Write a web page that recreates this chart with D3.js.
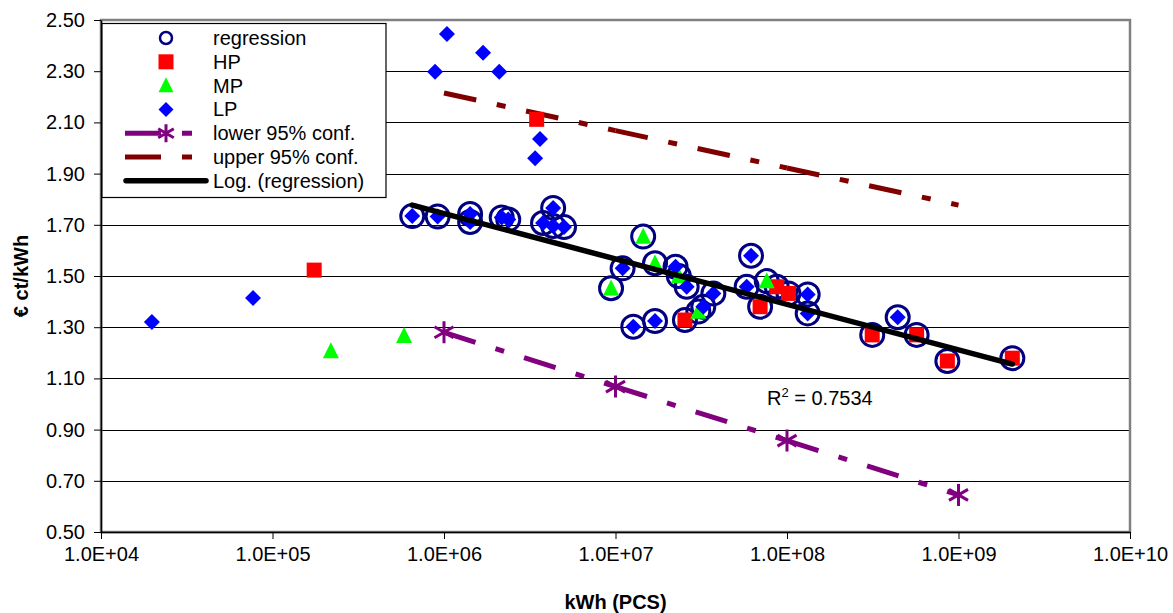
<!DOCTYPE html>
<html><head><meta charset="utf-8">
<script src="https://cdn.jsdelivr.net/npm/d3@7"></script>
<style>
html,body{margin:0;padding:0;background:#fff;}
text{font-family:"Liberation Sans",Arial,sans-serif;fill:#000;}
</style></head>
<body><svg id="c" width="1173" height="613"></svg>
<script>
// ---------- data ----------
const xTicks = [1e4,1e5,1e6,1e7,1e8,1e9,1e10];
const xTickLabels = ["1.0E+04","1.0E+05","1.0E+06","1.0E+07","1.0E+08","1.0E+09","1.0E+10"];
const yTicks = [0.5,0.7,0.9,1.1,1.3,1.5,1.7,1.9,2.1,2.3,2.5];
const yTickLabels = ["0.50","0.70","0.90","1.10","1.30","1.50","1.70","1.90","2.10","2.30","2.50"];

const hpSeries = [[1.75e5,1.523],[3.47e6,2.112],[2.54e7,1.328],[6.97e7,1.380],[8.71e7,1.458],
  [1.02e8,1.432],[3.14e8,1.270],[5.70e8,1.270],[8.61e8,1.168],[2.06e9,1.179]];
const mpSeries = [[2.19e5,1.207],[5.85e5,1.266],[9.42e6,1.452],[1.45e7,1.654],[1.70e7,1.550],
  [2.34e7,1.500],[3.04e7,1.361],[7.62e7,1.480]];
const lpSeries = [[1.98e4,1.320],[7.7e4,1.414],[8.87e5,2.298],[1.04e6,2.445],[1.69e6,2.372],
  [2.10e6,2.298],[3.63e6,2.035],[3.40e6,1.960],
  [6.53e5,1.734],[9.18e5,1.732],[1.42e6,1.742],[1.42e6,1.711],[2.17e6,1.729],[2.37e6,1.721],
  [4.33e6,1.766],[3.78e6,1.707],[4.33e6,1.695],[5.01e6,1.691],
  [1.10e7,1.530],[2.24e7,1.536],[2.60e7,1.458],[3.72e7,1.432],[3.25e7,1.380],[1.27e7,1.302],[1.70e7,1.324],
  [6.17e7,1.579],[5.82e7,1.458],[1.32e8,1.428],[1.32e8,1.354],[4.42e8,1.339]];
const regressionSeries = [
  [6.53e5,1.734],[9.18e5,1.732],[1.42e6,1.742],[1.42e6,1.711],[2.17e6,1.729],[2.37e6,1.721],
  [4.33e6,1.766],[3.78e6,1.707],[4.33e6,1.695],[5.01e6,1.691],
  [9.42e6,1.452],[1.10e7,1.530],[1.27e7,1.302],[1.45e7,1.654],[1.70e7,1.550],[1.70e7,1.324],
  [2.24e7,1.536],[2.34e7,1.500],[2.54e7,1.328],[2.60e7,1.458],[3.04e7,1.361],[3.25e7,1.380],[3.72e7,1.432],
  [5.82e7,1.458],[6.17e7,1.579],[6.97e7,1.380],[7.62e7,1.480],[8.71e7,1.458],[1.02e8,1.432],
  [1.32e8,1.428],[1.32e8,1.354],
  [3.14e8,1.270],[4.42e8,1.339],[5.70e8,1.270],[8.61e8,1.168],[2.06e9,1.179]];
const lowerConf = [[1e6,1.280],[1e7,1.068],[1e8,0.857],[1e9,0.645]];
const upperConf = [[1e6,2.215],[1e7,2.068],[1e8,1.922],[1e9,1.777]];
const trendX = [6.53e5, 2.06e9];
const trendY = [1.777, 1.156];
const r2Label = "0.7534";
const legendLabels = ["regression","HP","MP","LP","lower 95% conf.","upper 95% conf.","Log. (regression)"];

// ---------- layout ----------
const svg = d3.select("#c");
const L=101, R=1130, T=20, B=532;
const x = d3.scaleLog().domain([1e4,1e10]).range([L,R]);
const y = d3.scaleLinear().domain([0.5,2.5]).range([B,T]);
const FS = 20;

// gridlines
svg.append("g").selectAll("line").data(yTicks.slice(1,-1)).join("line")
  .attr("x1",L).attr("x2",R).attr("y1",d=>Math.round(y(d))+0.5).attr("y2",d=>Math.round(y(d))+0.5)
  .attr("stroke","#000").attr("stroke-width",1);

// plot border
svg.append("rect").attr("x",L).attr("y",T).attr("width",R-L).attr("height",B-T)
  .attr("fill","none").attr("stroke","#808080").attr("stroke-width",2.5);

// axes
const xAxis = svg.append("g").attr("transform",`translate(0,${B})`)
  .call(d3.axisBottom(x).tickValues(xTicks).tickFormat((d,i)=>xTickLabels[i]).tickSizeInner(7).tickSizeOuter(0).tickPadding(8));
const yAxis = svg.append("g").attr("transform",`translate(${L},0)`)
  .call(d3.axisLeft(y).tickValues(yTicks).tickFormat((d,i)=>yTickLabels[i]).tickSizeInner(7).tickSizeOuter(0).tickPadding(9));
[xAxis,yAxis].forEach(g=>{
  g.selectAll("path.domain").attr("stroke","#000").attr("stroke-width",1.5);
  g.selectAll("line").attr("stroke","#000").attr("stroke-width",1);
  g.selectAll("text").style("font-family","Liberation Sans, Arial, sans-serif").style("font-size",FS+"px").attr("fill","#000");
});

// conf lines (pattern restarts each segment)
const dash = "33,21,9,21";
function confLine(data,color){
  const g = svg.append("g");
  for(let i=0;i<data.length-1;i++){
    g.append("line").attr("x1",x(data[i][0])).attr("y1",y(data[i][1]))
      .attr("x2",x(data[i+1][0])).attr("y2",y(data[i+1][1]))
      .attr("stroke",color).attr("stroke-width",5).attr("stroke-dasharray",dash);
  }
}
confLine(upperConf,"#800000");
confLine(lowerConf,"#800080");

// markers
function square(g,cx,cy,s){g.append("rect").attr("x",cx-s/2).attr("y",cy-s/2).attr("width",s).attr("height",s).attr("fill","#FF0000");}
function tri(g,cx,cy,s){g.append("path").attr("d",`M${cx},${cy-s*0.55}L${cx+s/2},${cy+s*0.45}L${cx-s/2},${cy+s*0.45}Z`).attr("fill","#00FF00");}
function diamond(g,cx,cy,s){const h=s/2;g.append("path").attr("d",`M${cx},${cy-h}L${cx+h},${cy}L${cx},${cy+h}L${cx-h},${cy}Z`).attr("fill","#0000FF");}
function star(g,cx,cy,s){
  const h=s/2, a=h*0.866, b=h*0.5;
  g.append("path").attr("d",`M${cx},${cy-h}L${cx},${cy+h}M${cx-a},${cy-b}L${cx+a},${cy+b}M${cx-a},${cy+b}L${cx+a},${cy-b}`)
   .attr("stroke","#800080").attr("stroke-width",3).attr("fill","none");
}

const gReg = svg.append("g");
gReg.selectAll("circle").data(regressionSeries).join("circle")
  .attr("cx",d=>x(d[0])).attr("cy",d=>y(d[1])).attr("r",11.5)
  .attr("fill","none").attr("stroke","#000080").attr("stroke-width",3);
const gHP = svg.append("g"); hpSeries.forEach(d=>square(gHP,x(d[0]),y(d[1]),15));
const gMP = svg.append("g"); mpSeries.forEach(d=>tri(gMP,x(d[0]),y(d[1]),16));
const gLP = svg.append("g"); lpSeries.forEach(d=>diamond(gLP,x(d[0]),y(d[1]),16));
const gSt = svg.append("g"); lowerConf.forEach(d=>star(gSt,x(d[0]),y(d[1]),22));

// trendline
svg.append("line").attr("x1",x(trendX[0])).attr("y1",y(trendY[0])).attr("x2",x(trendX[1])).attr("y2",y(trendY[1]))
  .attr("stroke","#000").attr("stroke-width",5.5).attr("stroke-linecap","round");

// R^2 label
const rt = svg.append("text").attr("x",767).attr("y",405).style("font-size",FS+"px");
rt.append("tspan").text("R");
rt.append("tspan").attr("dy",-8).style("font-size","13px").text("2");
rt.append("tspan").attr("dy",8).text(" = "+r2Label);

// legend
const lg = svg.append("g");
lg.append("rect").attr("x",L+1).attr("y",23.5).attr("width",284).attr("height",174)
  .attr("fill","#fff").attr("stroke","#000").attr("stroke-width",1.2);
const rowY = i => 38 + i*23.8;
const sx = 166;
lg.append("circle").attr("cx",sx).attr("cy",rowY(0)).attr("r",6).attr("fill","#fff").attr("stroke","#000080").attr("stroke-width",2.5);
square(lg,sx,rowY(1),15);
tri(lg,sx,rowY(2),15);
diamond(lg,sx,rowY(3),15);
lg.append("line").attr("x1",125).attr("x2",210).attr("y1",rowY(4)).attr("y2",rowY(4))
  .attr("stroke","#800080").attr("stroke-width",5).attr("stroke-dasharray","36,21,10,40");
star(lg,sx,rowY(4),18);
lg.append("line").attr("x1",125).attr("x2",210).attr("y1",rowY(5)).attr("y2",rowY(5))
  .attr("stroke","#800000").attr("stroke-width",5).attr("stroke-dasharray","36,21,10,40");
lg.append("line").attr("x1",126).attr("x2",206).attr("y1",rowY(6)).attr("y2",rowY(6))
  .attr("stroke","#000").attr("stroke-width",5.5).attr("stroke-linecap","round");
lg.selectAll("text.lt").data(legendLabels).join("text").attr("class","lt")
  .attr("x",213).attr("y",(d,i)=>rowY(i)+7).style("font-size",FS+"px").text(d=>d);

// axis titles
svg.append("text").attr("x",(L+R)/2).attr("y",609).attr("text-anchor","middle")
  .style("font-size",FS+"px").style("font-weight","bold").text("kWh (PCS)");
svg.append("text").attr("transform","translate(28,276) rotate(-90)").attr("text-anchor","middle")
  .style("font-size",FS+"px").style("font-weight","bold").text("€ ct/kWh");
</script></body></html>
